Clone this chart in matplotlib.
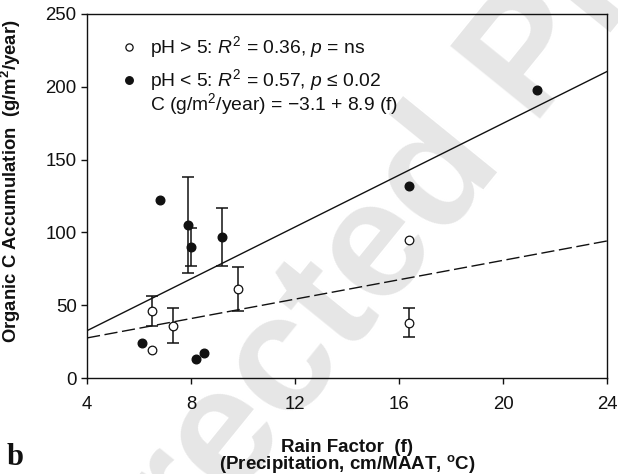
import matplotlib
matplotlib.use("Agg")
import matplotlib.pyplot as plt
import numpy as np

plt.rcParams["font.family"] = ["Liberation Sans", "DejaVu Sans"]
plt.rcParams["mathtext.fontset"] = "custom"
plt.rcParams["mathtext.rm"] = "Liberation Sans"
plt.rcParams["mathtext.it"] = "Liberation Sans:italic"
plt.rcParams["mathtext.bf"] = "Liberation Sans:bold"

# pH > 5 sites (open circles)
high_f = [6.5, 6.5, 7.3, 9.8, 16.4, 16.4]
high_c = [46, 19, 36, 61, 95, 38]
high_err = [10, 0, 12, 15, 0, 10]

# pH < 5 sites (filled circles)
low_f = [6.1, 6.8, 7.9, 8.0, 9.2, 8.2, 8.5, 16.4, 21.3]
low_c = [24, 122, 105, 90, 97, 13, 17, 132, 198]
low_err = [0, 0, 33, 13, 20, 0, 0, 0, 0]

# regression lines (intercept, slope)
fit_low = (-3.1, 8.9)
fit_high = (14.2, 3.33)

x_ticks = [4, 8, 12, 16, 20, 24]
y_ticks = [0, 50, 100, 150, 200, 250]


def main():
    fig = plt.figure(figsize=(6.18, 4.74), dpi=100)
    ax = fig.add_axes([0.1408, 0.2025, 0.8414, 0.768])
    ax.set_facecolor("none")

    # publisher watermark behind everything
    fig.text(0.508, 0.304, "Uncorrected Proof", rotation=51, ha="center", va="center",
             rotation_mode="anchor", fontsize=120, fontweight="bold",
             color="#e6e6e6", zorder=-5)

    xs = np.array([4, 24])
    ax.plot(xs, fit_low[0] + fit_low[1] * xs, color="#111111", lw=1.0, zorder=2)
    ax.plot(xs, fit_high[0] + fit_high[1] * xs, color="#111111", lw=1.0,
            dashes=(9.5, 3.3), zorder=2)

    hi_err = [e if e else np.nan for e in high_err]
    lo_err = [e if e else np.nan for e in low_err]
    ax.errorbar(high_f, high_c, yerr=hi_err, fmt="none", ecolor="#111111",
                elinewidth=1.1, capsize=4.5, capthick=1.1, zorder=3)
    ax.errorbar(low_f, low_c, yerr=lo_err, fmt="none", ecolor="#111111",
                elinewidth=1.1, capsize=4.5, capthick=1.1, zorder=3)
    ax.plot(high_f, high_c, "o", ms=6.2, mfc="white", mec="#111111", mew=0.9,
            ls="none", zorder=4)
    ax.plot(low_f, low_c, "o", ms=6.2, mfc="#111111", mec="#111111",
            ls="none", zorder=4)

    # legend block
    ax.plot([0.0808], [0.909], "o", ms=5.2, mfc="white", mec="#111111", mew=0.9,
            transform=ax.transAxes, clip_on=False)
    ax.plot([0.0808], [0.819], "o", ms=5.4, mfc="#111111", mec="#111111",
            transform=ax.transAxes, clip_on=False)
    kw = dict(transform=ax.transAxes, fontsize=13.9, va="center", ha="left",
              color="#111111")
    ax.text(0.121, 0.909, r"pH > 5: $R^2$ = 0.36, $p$ = ns", **kw)
    ax.text(0.121, 0.819, r"pH < 5: $R^2$ = 0.57, $p$ ≤ 0.02", **kw)
    ax.text(0.121, 0.752, r"C (g/m$^2$/year) = −3.1 + 8.9 (f)", **kw)

    ax.set_xlim(4, 24)
    ax.set_ylim(0, 250)
    ax.set_xticks(x_ticks)
    ax.set_yticks(y_ticks)
    ax.tick_params(direction="out", length=4.5, width=1.0, labelsize=13.4,
                   colors="#111111", pad=3)
    ax.tick_params(axis="x", pad=8.5)
    for s in ax.spines.values():
        s.set_linewidth(1.0)
        s.set_color("#111111")

    ax.set_ylabel(r"Organic C Accumulation  (g/m$^\mathbf{2}$/year)",
                  fontsize=13.3, fontweight="bold", color="#111111")
    ax.yaxis.set_label_coords(-0.123, 0.541)
    ax.set_xlabel("Rain Factor  (f)\n" + r"(Precipitation, cm/MAAT, $^\mathbf{o}$C)",
                  fontsize=13.5, fontweight="bold", color="#111111", linespacing=0.82)
    ax.xaxis.set_label_coords(0.5, -0.168)

    fig.text(0.010, 0.018, "b", fontsize=22, fontweight="bold",
             family="Liberation Serif", color="#111111")

    fig.savefig("out.png", dpi=100)
    plt.close(fig)


if __name__ == "__main__":
    main()
